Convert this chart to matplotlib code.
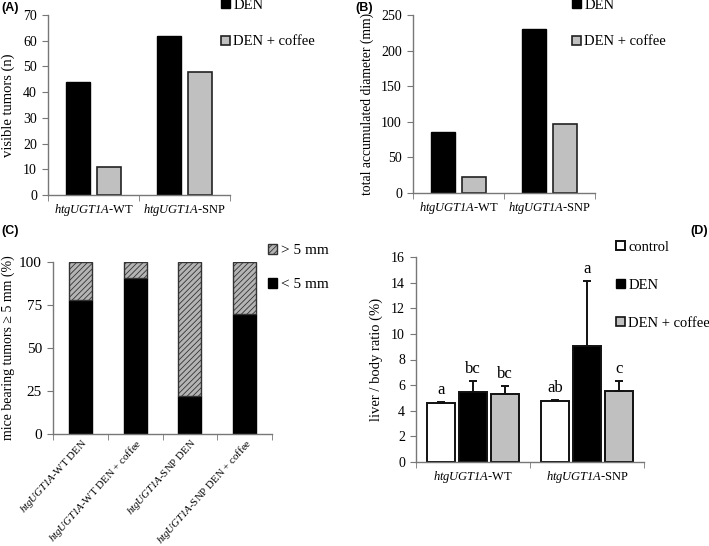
import matplotlib
matplotlib.use('Agg')
import matplotlib.pyplot as plt
from matplotlib.patches import Patch
import numpy as np

plt.rcParams['font.family'] = ['Liberation Serif', 'DejaVu Serif']
plt.rcParams['mathtext.fontset'] = 'custom'
plt.rcParams['mathtext.rm'] = 'Liberation Serif:italic'
plt.rcParams['mathtext.it'] = 'Liberation Serif:italic'
plt.rcParams['hatch.linewidth'] = 0.6

# ---------------- data ----------------
genotypes = [r'$\mathrm{htgUGT1A}$-WT', r'$\mathrm{htgUGT1A}$-SNP']

# (A) visible tumors
tumors_den = [44, 62]
tumors_coffee = [11, 48]

# (B) total accumulated diameter
diam_den = [86, 231]
diam_coffee = [23, 97]

# (C) mice bearing tumors
c_labels = [r'$\mathrm{htgUGT1A}$-WT DEN', r'$\mathrm{htgUGT1A}$-WT DEN + coffee',
            r'$\mathrm{htgUGT1A}$-SNP DEN', r'$\mathrm{htgUGT1A}$-SNP DEN + coffee']
small_pct = [77.8, 90.9, 22.2, 70.0]
large_pct = [22.2, 9.1, 77.8, 30.0]

# (D) liver / body ratio
ratio_control = [4.6, 4.75]
ratio_den = [5.5, 9.05]
ratio_coffee = [5.3, 5.55]
err_control = [0.1, 0.1]
err_den = [0.8, 5.05]
err_coffee = [0.6, 0.75]
letters_control = ['a', 'ab']
letters_den = ['bc', 'a']
letters_coffee = ['bc', 'c']

W, H = 709, 546
fig = plt.figure(figsize=(W / 100, H / 100), dpi=100)


def px_axes(left, top, right, bottom):
    return fig.add_axes([left / W, 1 - bottom / H, (right - left) / W, (bottom - top) / H])


def style_axes(ax, ncat):
    for s in ['top', 'right']:
        ax.spines[s].set_visible(False)
    for s in ['left', 'bottom']:
        ax.spines[s].set_color('#777777')
        ax.spines[s].set_linewidth(1.0)
    ax.tick_params(axis='y', direction='out', length=4, color='#777777', labelsize=10, pad=4)
    ax.set_xlim(-0.5, ncat - 0.5)
    ax.set_xticks(np.arange(ncat))
    ax.set_xticks(np.arange(ncat + 1) - 0.5, minor=True)
    ax.tick_params(axis='x', which='major', length=0, labelsize=9, pad=5)
    ax.tick_params(axis='x', which='minor', length=4, color='#777777')


def legend(ax, handles, x, y, spacing, size=10.5):
    leg = ax.legend(handles=handles, loc='upper left', bbox_to_anchor=(x / W, 1 - y / H),
                    bbox_transform=fig.transFigure, frameon=False, fontsize=size,
                    handlelength=0.6, handleheight=0.6, handletextpad=0.25,
                    labelspacing=spacing, borderpad=0, borderaxespad=0)
    return leg


BLACK = '#000000'
GRAY = '#c0c0c0'
HATCHFACE = '#b4b4b4'
x2 = np.arange(2)
off = 0.17
bw = 0.265

# ---------------- (A) ----------------
axA = px_axes(48, 15, 230, 195)
axA.bar(x2 - off, tumors_den, bw, color=BLACK, edgecolor=BLACK)
axA.bar(x2 + off, tumors_coffee, bw, color=GRAY, edgecolor='#222222', linewidth=1.2)
style_axes(axA, 2)
axA.set_ylim(0, 70)
axA.set_yticks(range(0, 71, 10))
axA.set_xticklabels(genotypes)
axA.set_ylabel('visible tumors (n)', fontsize=10.5, labelpad=6)
legend(axA, [Patch(facecolor=BLACK, edgecolor=BLACK, label='DEN'),
             Patch(facecolor=GRAY, edgecolor='#222222', linewidth=1.2, label='DEN + coffee')],
       221, -1, 1.6)

# ---------------- (B) ----------------
axB = px_axes(413, 15, 595, 193)
axB.bar(x2 - off, diam_den, bw, color=BLACK, edgecolor=BLACK)
axB.bar(x2 + off, diam_coffee, bw, color=GRAY, edgecolor='#222222', linewidth=1.2)
style_axes(axB, 2)
axB.set_ylim(0, 250)
axB.set_yticks(range(0, 251, 50))
axB.set_xticklabels(genotypes)
axB.set_ylabel('total accumulated diameter (mm)', fontsize=9.8, labelpad=5)
legend(axB, [Patch(facecolor=BLACK, edgecolor=BLACK, label='DEN'),
             Patch(facecolor=GRAY, edgecolor='#222222', linewidth=1.2, label='DEN + coffee')],
       572, -1, 1.6)

# ---------------- (C) ----------------
axC = px_axes(53, 262, 272, 434)
x4 = np.arange(4)
axC.bar(x4, small_pct, 0.42, color=BLACK, edgecolor=BLACK)
axC.bar(x4, large_pct, 0.42, bottom=small_pct, color=HATCHFACE, edgecolor='#333333',
        hatch='//////', linewidth=1.0)
style_axes(axC, 4)
axC.set_ylim(0, 100)
axC.set_yticks([0, 25, 50, 75, 100])
axC.tick_params(axis='y', labelsize=11)
axC.set_xticklabels(c_labels, rotation=48, ha='right', rotation_mode='anchor', fontsize=7.8)
axC.tick_params(axis='x', which='major', pad=2)
axC.set_ylabel('mice bearing tumors \u2265 5 mm (%)', fontsize=10, labelpad=3)
legend(axC, [Patch(facecolor=HATCHFACE, edgecolor='#333333', hatch='//////', label='> 5 mm'),
             Patch(facecolor=BLACK, edgecolor=BLACK, label='< 5 mm')],
       268, 244, 1.35, size=11)

# ---------------- (D) ----------------
axD = px_axes(416, 257, 644, 462)
offD = 0.28
bwD = 0.245
zero = [0, 0]
groups = [
    (ratio_control, err_control, letters_control, 'white', -offD),
    (ratio_den, err_den, letters_den, BLACK, 0.0),
    (ratio_coffee, err_coffee, letters_coffee, GRAY, offD),
]
for vals, errs, lets, col, o in groups:
    axD.bar(x2 + o, vals, bwD, color=col, edgecolor='#111111', linewidth=1.4,
            yerr=[zero, errs], error_kw=dict(ecolor='#111111', elinewidth=1.4, capsize=3, capthick=1.4))
    for xi, v, e, t in zip(x2 + o, vals, errs, lets):
        axD.annotate(t, (xi, v + e), xytext=(0, 3), textcoords='offset points',
                     ha='center', va='bottom', fontsize=12)
style_axes(axD, 2)
axD.set_ylim(0, 16)
axD.set_yticks(range(0, 17, 2))
axD.set_xticklabels(genotypes)
axD.set_ylabel('liver / body ratio (%)', fontsize=10.5, labelpad=6)
legend(axD, [Patch(facecolor='white', edgecolor='#111111', linewidth=1.4, label='control'),
             Patch(facecolor=BLACK, edgecolor=BLACK, label='DEN'),
             Patch(facecolor=GRAY, edgecolor='#111111', linewidth=1.2, label='DEN + coffee')],
       616, 241, 1.7)

# panel letters
for lab, x, y in [('(A)', 1, 8), ('(B)', 355, 8), ('(C)', 1, 231), ('(D)', 690, 231)]:
    fig.text(x / W, 1 - y / H, lab, family='Liberation Sans', weight='bold', fontsize=9,
             ha='left', va='center')

fig.savefig('out.png', dpi=100)
